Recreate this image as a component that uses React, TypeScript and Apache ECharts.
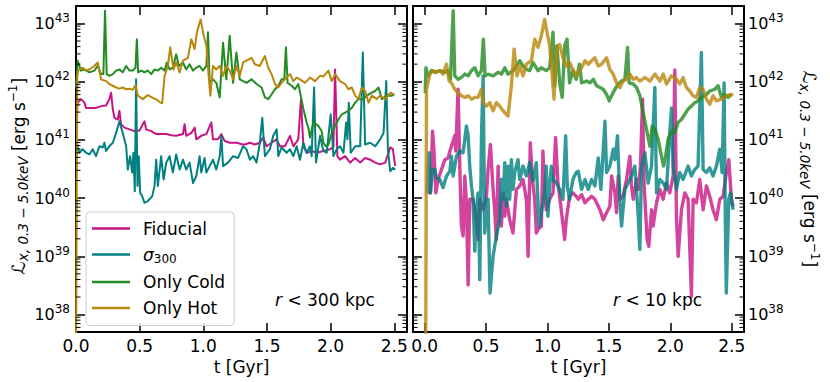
import React, { useEffect, useRef } from 'react';
import * as echarts from 'echarts';

// [t (Gyr), log10 L_x (erg/s)]
const fidTotal: [number, number][] = [
  [0.008, 41.5], [0.013, 41.64], [0.039, 41.7], [0.066, 41.64], [0.079, 41.55], [0.118, 41.55], [0.157, 41.55], [0.197, 41.58],
  [0.236, 41.59], [0.262, 41.7], [0.276, 41.81], [0.289, 41.53], [0.302, 41.38], [0.328, 41.35], [0.341, 41.5], [0.354, 41.27],
  [0.381, 41.21], [0.42, 41.18], [0.459, 41.15], [0.499, 41.16], [0.525, 41.27], [0.538, 41.32], [0.551, 41.18], [0.591, 41.15],
  [0.63, 41.1], [0.669, 41.1], [0.709, 41.1], [0.748, 41.08], [0.787, 41.07], [0.84, 41.1], [0.853, 41.27], [0.866, 41.07],
  [0.906, 41.12], [0.932, 41.21], [0.945, 41.01], [0.984, 41.07], [1.024, 41.1], [1.063, 41.3], [1.076, 41.01], [1.115, 41.01],
  [1.142, 41.1], [1.168, 40.98], [1.207, 40.95], [1.26, 40.95], [1.312, 40.92], [1.326, 40.92], [1.366, 40.95], [1.405, 40.92],
  [1.444, 40.95], [1.471, 41.04], [1.497, 40.89], [1.536, 40.95], [1.576, 41.01], [1.602, 40.89], [1.641, 40.89], [1.681, 41.07],
  [1.707, 40.89], [1.746, 41.01], [1.767, 41.7], [1.786, 40.89], [1.812, 40.78], [1.851, 40.81], [1.891, 40.78], [1.943, 40.81],
  [1.996, 40.84], [2.022, 40.87], [2.035, 42.21], [2.053, 40.72], [2.074, 40.66], [2.114, 40.72], [2.153, 40.61], [2.193, 40.69],
  [2.232, 40.61], [2.271, 40.69], [2.311, 40.66], [2.35, 40.61], [2.389, 40.58], [2.429, 40.61], [2.468, 40.87], [2.489, 40.84],
  [2.507, 40.55],
];

const sigTotal: [number, number][] = [
  [0.008, 40.95], [0.013, 40.89], [0.026, 40.78], [0.052, 40.84], [0.079, 40.78], [0.105, 40.75], [0.131, 40.84], [0.157, 40.72],
  [0.184, 40.89], [0.21, 40.87], [0.223, 40.95], [0.236, 40.81], [0.262, 40.89], [0.289, 40.95], [0.315, 41.12], [0.341, 41.32],
  [0.367, 41.12], [0.394, 40.89], [0.407, 40.49], [0.425, 40.72], [0.441, 40.44], [0.451, 40.78], [0.462, 40.12], [0.472, 42.04],
  [0.483, 40.21], [0.493, 40.72], [0.504, 40.09], [0.52, 40.03], [0.538, 39.92], [0.564, 39.95], [0.598, 40.03], [0.617, 40.21],
  [0.63, 40.66], [0.643, 40.21], [0.669, 40.72], [0.688, 40.32], [0.709, 40.61], [0.735, 40.72], [0.761, 40.44], [0.787, 40.75],
  [0.814, 40.49], [0.84, 40.66], [0.866, 40.49], [0.892, 40.61], [0.919, 40.26], [0.945, 40.38], [0.971, 40.72], [0.984, 40.44],
  [1.01, 40.69], [1.024, 40.44], [1.05, 40.55], [1.076, 40.66], [1.102, 40.49], [1.129, 40.72], [1.142, 41.07], [1.155, 40.55],
  [1.194, 40.61], [1.234, 40.72], [1.273, 40.69], [1.312, 40.89], [1.339, 40.84], [1.366, 40.66], [1.392, 40.72], [1.418, 40.61],
  [1.444, 40.95], [1.463, 41.38], [1.484, 40.72], [1.523, 40.84], [1.549, 41.07], [1.576, 41.18], [1.589, 40.72], [1.615, 40.87],
  [1.654, 40.78], [1.681, 40.84], [1.707, 40.72], [1.733, 40.89], [1.759, 40.66], [1.786, 40.95], [1.812, 40.78], [1.838, 40.89],
  [1.851, 40.72], [1.87, 41.9], [1.885, 40.61], [1.917, 41.07], [1.943, 40.81], [1.969, 40.78], [2.001, 41.44], [2.022, 40.72],
  [2.048, 40.84], [2.074, 40.89], [2.101, 40.78], [2.122, 41.3], [2.132, 41.01], [2.143, 41.64], [2.158, 40.78], [2.193, 40.89],
  [2.232, 40.89], [2.253, 42.5], [2.271, 40.92], [2.311, 40.95], [2.35, 40.89], [2.389, 41.01], [2.416, 41.12], [2.437, 42.01],
  [2.45, 40.84], [2.468, 40.46], [2.489, 40.52], [2.507, 40.49],
];

const coldTotal: [number, number][] = [
  [0.0, 41.9], [0.013, 42.36], [0.039, 42.19], [0.066, 42.21], [0.105, 42.16], [0.144, 42.19], [0.171, 42.27], [0.197, 42.13],
  [0.215, 42.13], [0.228, 43.22], [0.241, 42.13], [0.262, 42.1], [0.289, 42.13], [0.315, 42.19], [0.341, 42.21], [0.367, 42.16],
  [0.394, 42.27], [0.42, 42.19], [0.446, 42.19], [0.467, 42.24], [0.478, 42.73], [0.488, 42.16], [0.512, 42.19], [0.538, 42.16],
  [0.564, 42.19], [0.591, 42.13], [0.617, 42.21], [0.643, 42.19], [0.669, 42.24], [0.696, 42.19], [0.714, 42.33], [0.735, 42.21],
  [0.761, 42.24], [0.787, 42.47], [0.808, 42.27], [0.84, 42.33], [0.866, 42.21], [0.892, 42.3], [0.919, 42.19], [0.945, 42.24],
  [0.971, 42.27], [0.997, 42.19], [1.024, 42.27], [1.037, 42.85], [1.05, 41.98], [1.076, 42.04], [1.102, 41.98], [1.129, 41.73],
  [1.155, 42.67], [1.181, 42.04], [1.207, 42.79], [1.234, 41.98], [1.26, 42.5], [1.286, 42.04], [1.339, 41.98], [1.379, 42.04],
  [1.418, 41.96], [1.458, 41.9], [1.484, 41.73], [1.51, 41.7], [1.536, 41.78], [1.563, 41.87], [1.589, 41.93], [1.615, 42.04],
  [1.636, 42.04], [1.649, 42.59], [1.662, 41.98], [1.694, 41.93], [1.72, 41.87], [1.746, 41.96], [1.765, 41.76], [1.786, 41.53],
  [1.812, 41.3], [1.825, 41.21], [1.838, 41.04], [1.864, 41.3], [1.904, 41.24], [1.93, 41.15], [1.943, 40.95], [1.964, 40.89],
  [1.983, 40.92], [2.009, 41.12], [2.035, 41.24], [2.061, 41.35], [2.088, 41.44], [2.114, 41.47], [2.14, 41.5], [2.166, 41.55],
  [2.193, 41.64], [2.219, 41.7], [2.258, 41.7], [2.284, 41.76], [2.324, 41.81], [2.35, 41.84], [2.376, 41.9], [2.403, 41.7],
  [2.442, 41.76], [2.481, 41.76], [2.5, 41.78],
];

const hotTotal: [number, number][] = [
  [0.0, 37.0], [0.01, 42.1], [0.021, 42.21], [0.052, 42.24], [0.079, 42.19], [0.105, 42.21], [0.144, 42.27], [0.171, 42.33],
  [0.197, 42.04], [0.236, 42.01], [0.262, 41.96], [0.289, 41.93], [0.315, 41.9], [0.341, 41.88], [0.367, 41.9], [0.394, 41.87],
  [0.42, 41.88], [0.446, 41.86], [0.467, 41.94], [0.486, 41.76], [0.525, 41.7], [0.564, 41.77], [0.604, 41.72], [0.63, 41.7],
  [0.656, 41.65], [0.677, 41.63], [0.696, 42.1], [0.722, 42.27], [0.74, 42.59], [0.766, 42.21], [0.787, 42.33], [0.814, 42.16],
  [0.84, 42.36], [0.879, 42.41], [0.906, 42.73], [0.932, 42.56], [0.95, 42.85], [0.979, 43.07], [1.003, 42.79], [1.024, 42.62],
  [1.042, 42.1], [1.055, 41.76], [1.076, 42.27], [1.102, 42.21], [1.129, 42.27], [1.155, 42.1], [1.181, 42.27], [1.207, 42.19],
  [1.234, 42.04], [1.26, 42.27], [1.286, 42.1], [1.313, 42.33], [1.339, 42.36], [1.379, 42.41], [1.405, 42.3], [1.444, 42.27],
  [1.484, 42.44], [1.51, 42.24], [1.536, 42.13], [1.563, 41.96], [1.589, 41.9], [1.615, 41.98], [1.641, 42.04], [1.681, 42.13],
  [1.707, 42.01], [1.733, 42.07], [1.759, 42.04], [1.799, 41.98], [1.838, 42.07], [1.878, 42.01], [1.917, 42.1], [1.943, 42.09],
  [1.983, 42.19], [2.009, 42.01], [2.035, 42.13], [2.074, 42.01], [2.114, 41.96], [2.14, 41.87], [2.166, 41.9], [2.193, 41.76],
  [2.219, 41.7], [2.245, 41.9], [2.271, 41.84], [2.298, 41.64], [2.324, 41.76], [2.363, 41.7], [2.389, 41.76], [2.429, 41.7],
  [2.468, 41.81], [2.5, 41.78],
];

const fidCore: [number, number][] = [
  [0.03, 40.1], [0.047, 40.09], [0.064, 41.15], [0.075, 40.84], [0.091, 40.09], [0.11, 40.32], [0.137, 40.49], [0.164, 40.66],
  [0.191, 40.69], [0.21, 40.84], [0.232, 40.98], [0.245, 41.07], [0.253, 40.81], [0.272, 41.87], [0.286, 40.55], [0.299, 39.52],
  [0.313, 39.35], [0.327, 40.38], [0.34, 39.92], [0.354, 38.51], [0.367, 39.98], [0.394, 39.98], [0.408, 39.8], [0.421, 39.57],
  [0.435, 39.29], [0.449, 39.98], [0.476, 39.8], [0.503, 40.03], [0.516, 40.49], [0.535, 40.92], [0.557, 40.15], [0.57, 39.8],
  [0.584, 39.29], [0.598, 40.55], [0.611, 39.63], [0.625, 39.52], [0.638, 40.09], [0.652, 39.69], [0.665, 39.98], [0.692, 39.63],
  [0.719, 39.4], [0.747, 40.15], [0.774, 40.21], [0.801, 40.32], [0.828, 39.98], [0.842, 39.0], [0.86, 40.95], [0.877, 40.32],
  [0.896, 39.98], [0.909, 39.4], [0.923, 39.46], [0.95, 39.52], [0.963, 40.81], [0.977, 40.09], [0.99, 39.8], [1.018, 39.98],
  [1.045, 40.09], [1.066, 41.04], [1.085, 40.26], [1.112, 39.8], [1.14, 39.29], [1.153, 39.63], [1.18, 40.03], [1.207, 40.09],
  [1.234, 40.03], [1.251, 39.98], [1.278, 40.06], [1.305, 39.92], [1.332, 39.98], [1.359, 40.03], [1.386, 39.98], [1.427, 39.8],
  [1.454, 39.63], [1.481, 39.75], [1.508, 39.86], [1.522, 40.38], [1.549, 40.09], [1.562, 39.75], [1.576, 40.38], [1.589, 39.98],
  [1.616, 40.03], [1.643, 40.32], [1.671, 40.72], [1.684, 40.21], [1.698, 39.98], [1.725, 40.32], [1.739, 40.15], [1.757, 40.55],
  [1.774, 41.7], [1.787, 40.21], [1.798, 39.8], [1.811, 39.29], [1.825, 39.17], [1.847, 39.8], [1.86, 39.52], [1.888, 39.92],
  [1.915, 40.15], [1.942, 39.98], [1.969, 40.26], [1.996, 40.09], [2.023, 40.38], [2.037, 42.2], [2.05, 39.69], [2.064, 39.0],
  [2.091, 39.8], [2.118, 40.09], [2.145, 39.98], [2.172, 38.31], [2.186, 39.98], [2.213, 39.92], [2.24, 40.32], [2.267, 39.8],
  [2.294, 40.21], [2.321, 40.03], [2.348, 39.8], [2.375, 39.63], [2.403, 39.98], [2.43, 40.03], [2.457, 40.44], [2.476, 40.66],
  [2.498, 39.98], [2.511, 39.86],
];

const sigCore: [number, number][] = [
  [0.02, 40.09], [0.037, 40.78], [0.047, 40.09], [0.064, 40.49], [0.083, 40.49], [0.096, 40.35], [0.123, 40.32], [0.15, 40.18],
  [0.178, 40.38], [0.205, 40.46], [0.218, 40.72], [0.232, 40.38], [0.259, 40.72], [0.286, 40.81], [0.313, 40.78], [0.327, 41.01],
  [0.34, 41.24], [0.354, 41.07], [0.367, 40.55], [0.381, 40.21], [0.394, 39.98], [0.408, 39.09], [0.421, 39.8], [0.435, 40.09],
  [0.449, 38.6], [0.462, 41.01], [0.476, 42.1], [0.489, 39.4], [0.503, 39.8], [0.516, 39.98], [0.532, 38.37], [0.557, 39.0],
  [0.584, 39.35], [0.611, 39.63], [0.625, 40.32], [0.638, 39.98], [0.652, 40.61], [0.665, 39.86], [0.679, 40.55], [0.692, 39.98],
  [0.706, 40.66], [0.719, 40.15], [0.733, 40.44], [0.76, 40.66], [0.774, 40.32], [0.801, 40.55], [0.828, 40.38], [0.855, 40.61],
  [0.882, 40.29], [0.909, 40.61], [0.931, 39.52], [0.95, 39.75], [0.977, 40.09], [0.99, 40.55], [1.004, 39.69], [1.018, 40.21],
  [1.031, 40.55], [1.045, 40.32], [1.072, 40.26], [1.099, 40.15], [1.126, 39.98], [1.148, 41.07], [1.161, 40.21], [1.18, 39.98],
  [1.207, 40.32], [1.234, 40.44], [1.251, 40.46], [1.278, 40.15], [1.305, 40.32], [1.332, 40.15], [1.359, 40.32], [1.386, 40.21],
  [1.413, 40.69], [1.435, 40.15], [1.468, 41.32], [1.481, 40.44], [1.508, 40.55], [1.535, 40.84], [1.549, 40.66], [1.57, 41.07],
  [1.589, 39.98], [1.603, 39.52], [1.63, 40.15], [1.657, 40.26], [1.684, 40.38], [1.711, 40.55], [1.739, 39.69], [1.752, 39.12],
  [1.766, 40.55], [1.793, 40.78], [1.82, 40.26], [1.847, 40.55], [1.874, 41.9], [1.888, 40.09], [1.915, 40.32], [1.942, 40.26],
  [1.969, 40.15], [1.996, 41.12], [2.01, 41.55], [2.023, 40.55], [2.05, 40.15], [2.077, 40.44], [2.104, 40.32], [2.145, 40.55],
  [2.172, 40.38], [2.199, 40.49], [2.226, 40.55], [2.253, 42.5], [2.267, 40.49], [2.294, 40.44], [2.321, 40.52], [2.348, 40.38],
  [2.375, 40.55], [2.403, 40.84], [2.422, 40.44], [2.438, 41.98], [2.448, 39.63], [2.456, 38.37], [2.476, 39.98], [2.49, 40.09],
  [2.511, 39.8],
];

const coldCore: [number, number][] = [
  [0.005, 41.8], [0.01, 42.24], [0.028, 42.1], [0.056, 42.19], [0.083, 42.16], [0.123, 42.19], [0.164, 42.16], [0.191, 42.19],
  [0.21, 42.04], [0.232, 43.22], [0.245, 42.1], [0.272, 42.04], [0.299, 42.07], [0.327, 42.13], [0.354, 42.1], [0.381, 42.19],
  [0.408, 42.24], [0.435, 42.1], [0.462, 42.19], [0.478, 42.73], [0.492, 42.1], [0.516, 42.13], [0.557, 42.1], [0.598, 42.16],
  [0.625, 42.13], [0.652, 42.24], [0.679, 42.13], [0.719, 42.19], [0.747, 42.27], [0.774, 42.36], [0.801, 42.27], [0.828, 42.21],
  [0.855, 42.19], [0.882, 42.33], [0.923, 42.19], [0.95, 42.24], [0.99, 42.19], [1.018, 42.24], [1.045, 42.85], [1.058, 41.93],
  [1.077, 42.62], [1.099, 41.98], [1.12, 41.73], [1.14, 42.62], [1.159, 42.73], [1.18, 41.98], [1.207, 42.19], [1.234, 42.04],
  [1.261, 42.3], [1.278, 41.98], [1.319, 42.01], [1.346, 41.98], [1.373, 42.04], [1.4, 41.93], [1.427, 41.9], [1.454, 41.87],
  [1.481, 41.78], [1.503, 41.67], [1.522, 41.76], [1.549, 41.87], [1.576, 41.96], [1.603, 42.01], [1.63, 42.04], [1.652, 42.59],
  [1.665, 41.98], [1.698, 41.96], [1.725, 41.9], [1.752, 41.76], [1.779, 41.47], [1.806, 41.18], [1.834, 40.89], [1.853, 41.24],
  [1.874, 41.18], [1.901, 41.01], [1.922, 40.78], [1.945, 40.55], [1.96, 40.7], [1.982, 41.01], [2.009, 41.15], [2.036, 41.12],
  [2.063, 41.3], [2.09, 41.35], [2.118, 41.44], [2.145, 41.53], [2.172, 41.58], [2.199, 41.64], [2.226, 41.67], [2.253, 41.73],
  [2.294, 41.78], [2.321, 41.84], [2.362, 41.87], [2.389, 41.93], [2.416, 41.73], [2.443, 41.78], [2.47, 41.73], [2.497, 41.78],
];

const hotCore: [number, number][] = [
  [0.008, 37.0], [0.015, 41.87], [0.042, 42.13], [0.069, 42.19], [0.096, 42.16], [0.123, 42.19], [0.15, 42.13], [0.177, 42.3],
  [0.199, 42.01], [0.218, 41.98], [0.245, 41.87], [0.272, 41.81], [0.299, 41.76], [0.327, 41.73], [0.354, 41.76], [0.381, 41.7],
  [0.408, 41.73], [0.435, 41.73], [0.462, 41.87], [0.476, 41.64], [0.503, 41.58], [0.53, 41.64], [0.557, 41.5], [0.584, 41.64],
  [0.611, 41.58], [0.638, 41.5], [0.679, 41.41], [0.706, 41.93], [0.728, 42.56], [0.752, 42.1], [0.774, 42.27], [0.801, 42.1],
  [0.828, 42.3], [0.869, 42.36], [0.896, 42.73], [0.923, 42.59], [0.95, 42.79], [0.977, 43.07], [0.996, 42.85], [1.018, 42.62],
  [1.039, 42.1], [1.053, 41.7], [1.077, 42.59], [1.099, 42.64], [1.126, 42.41], [1.153, 42.27], [1.18, 42.33], [1.207, 42.21],
  [1.234, 42.1], [1.261, 42.19], [1.278, 42.24], [1.305, 42.36], [1.332, 42.3], [1.359, 42.36], [1.386, 42.41], [1.413, 42.27],
  [1.44, 42.3], [1.481, 42.41], [1.508, 42.21], [1.535, 42.13], [1.562, 41.98], [1.589, 41.9], [1.616, 42.01], [1.643, 42.04],
  [1.671, 42.13], [1.698, 42.04], [1.725, 42.07], [1.752, 42.01], [1.793, 42.07], [1.834, 42.01], [1.874, 42.13], [1.915, 42.01],
  [1.942, 42.13], [1.969, 41.96], [2.009, 42.1], [2.05, 42.04], [2.077, 41.96], [2.104, 42.07], [2.131, 41.9], [2.158, 41.84],
  [2.185, 41.76], [2.213, 41.73], [2.24, 41.9], [2.267, 41.87], [2.294, 41.7], [2.321, 41.61], [2.348, 41.76], [2.375, 41.67],
  [2.416, 41.7], [2.457, 41.76], [2.497, 41.78], [2.511, 41.76],
];

const seriesNames = ['Fiducial', 'σ300', 'Only Cold', 'Only Hot'];
const yDecades = [37, 38, 39, 40, 41, 42, 43];
const minorMultipliers = [2, 3, 4, 5, 6, 7, 8, 9];

const Y_MIN = 37.7;
const Y_MAX = 43.3;
const X_L = [0, 2.6];
const X_R = [-0.095, 2.6];

const FONT = 'DejaVu Sans';
const COLORS = ['#c71585', '#008080', '#228b22', '#b8860b'];

export default function App() {
  const ref = useRef<HTMLDivElement>(null);

  useEffect(() => {
    if (!ref.current) return;
    const chart = echarts.init(ref.current, null, { renderer: 'svg' });

    const minorValues: number[] = [];
    yDecades.forEach((d) => {
      minorMultipliers.forEach((m) => {
        const v = d + Math.log10(m);
        if (v > Y_MIN && v < Y_MAX) minorValues.push(v);
      });
    });

    const yLabelFmt = (v: number) =>
      Math.abs(v - Math.round(v)) < 1e-6 ? `{b|10}{s|${Math.round(v)}}` : '';
    const xLabelFmt = (v: number) =>
      Math.abs(v * 2 - Math.round(v * 2)) < 1e-6 && v >= -1e-9 ? v.toFixed(1) : '';

    const yRich = {
      b: { fontSize: 16, fontFamily: FONT, color: '#000', verticalAlign: 'middle' },
      s: { fontSize: 12, fontFamily: FONT, color: '#000', verticalAlign: 'middle', padding: [0, 0, 11, 0] },
    };
    const nameRich = {
      L: { fontSize: 18, fontFamily: FONT, color: '#000', verticalAlign: 'middle' },
      sub: { fontSize: 13.5, fontFamily: FONT, fontStyle: 'italic', color: '#000', verticalAlign: 'middle', padding: [9, 0, 0, 0] },
      n: { fontSize: 17, fontFamily: FONT, color: '#000', verticalAlign: 'middle' },
      sup: { fontSize: 12, fontFamily: FONT, color: '#000', verticalAlign: 'middle', padding: [0, 0, 11, 0] },
    };
    const yName = '{L|ℒ}{sub|x, 0.3 − 5.0keV}{n| [erg s}{sup|−1}{n|]}';

    const axisLine = { show: true, onZero: false, lineStyle: { color: '#000', width: 2 } };
    const tick = { show: true, inside: true, length: 9, lineStyle: { color: '#000', width: 1.5 } };

    const makeX = (gridIndex: number, ext: number[], pos: 'bottom' | 'top', labels: boolean) => ({
      type: 'value',
      gridIndex,
      position: pos,
      min: ext[0],
      max: ext[1],
      minInterval: 0.5,
      maxInterval: 0.5,
      splitNumber: 5,
      axisLine,
      axisTick: tick,
      splitLine: { show: false },
      axisLabel: {
        show: labels,
        formatter: xLabelFmt,
        fontSize: 17,
        fontFamily: FONT,
        color: '#000',
        margin: 5,
        showMinLabel: true,
        showMaxLabel: false,
      },
      name: labels ? 't [Gyr]' : '',
      nameLocation: 'middle',
      nameGap: 22,
      nameTextStyle: { fontSize: 17, fontFamily: FONT, color: '#000' },
    });

    const makeY = (gridIndex: number, pos: 'left' | 'right', labels: boolean, named: boolean) => ({
      type: 'value',
      gridIndex,
      position: pos,
      min: Y_MIN,
      max: Y_MAX,
      minInterval: 1,
      maxInterval: 1,
      splitNumber: 5,
      axisLine,
      axisTick: tick,
      splitLine: { show: false },
      axisLabel: {
        show: labels,
        formatter: yLabelFmt,
        rich: yRich,
        margin: pos === 'left' ? 6 : 4,
        showMinLabel: false,
        showMaxLabel: false,
      },
      name: named ? yName : '',
      nameLocation: 'middle',
      nameRotate: pos === 'left' ? 90 : -90,
      nameGap: pos === 'left' ? 44 : 54,
      nameTextStyle: {
        rich: nameRich,
        fontSize: 17,
        fontFamily: FONT,
        color: '#000',
        padding: pos === 'left' ? [0, 14, 0, 0] : 0,
      },
    });

    const lineSeries = (data: [number, number][], idx: number, axis: number, core: boolean) => ({
      type: 'line',
      name: seriesNames[idx],
      data,
      xAxisIndex: axis,
      yAxisIndex: axis,
      symbol: 'none',
      showSymbol: false,
      smooth: false,
      clip: true,
      z: 2 + idx * 0.1,
      lineStyle: { color: COLORS[idx], width: core ? 3.4 : 2, opacity: core ? 0.8 : 1, join: 'round' },
      itemStyle: { color: COLORS[idx] },
      emphasis: { disabled: true },
    });

    const minorTickSeries = (axis: number, ext: number[]) => ({
      type: 'custom',
      xAxisIndex: axis,
      yAxisIndex: axis,
      silent: true,
      z: 10,
      data: minorValues.map((v) => [ext[0], v]),
      encode: { x: 0, y: 1 },
      renderItem: (_params: any, api: any) => {
        const v = api.value(1);
        const l = api.coord([ext[0], v]);
        const r = api.coord([ext[1], v]);
        const st = { stroke: '#000', lineWidth: 1 };
        return {
          type: 'group',
          children: [
            { type: 'line', shape: { x1: l[0], y1: l[1], x2: l[0] + 4.5, y2: l[1] }, style: st },
            { type: 'line', shape: { x1: r[0] - 4.5, y1: r[1], x2: r[0], y2: r[1] }, style: st },
          ],
        };
      },
    });

    const option: any = {
      animation: false,
      textStyle: { fontFamily: FONT },
      grid: [
        { left: 76, top: 6, width: 331, height: 326 },
        { left: 413, top: 6, width: 331, height: 326 },
      ],
      xAxis: [
        makeX(0, X_L, 'bottom', true),
        makeX(0, X_L, 'top', false),
        makeX(1, X_R, 'bottom', true),
        makeX(1, X_R, 'top', false),
      ],
      yAxis: [
        makeY(0, 'left', true, true),
        makeY(0, 'right', false, false),
        makeY(1, 'right', true, true),
        makeY(1, 'left', false, false),
      ],
      legend: {
        data: seriesNames.map((n) => ({ name: n, icon: 'rect' })),
        orient: 'vertical',
        left: 86,
        top: 212,
        padding: [8, 9, 9, 6],
        itemGap: 9,
        itemWidth: 38,
        itemHeight: 2.5,
        backgroundColor: 'rgba(255,255,255,0.8)',
        borderColor: '#cccccc',
        borderWidth: 1,
        borderRadius: 4,
        selectedMode: false,
        formatter: (name: string) => (name === 'σ300' ? '{g|σ}{s|300}' : `{n|${name}}`),
        textStyle: {
          fontSize: 17,
          fontFamily: FONT,
          color: '#000',
          padding: [0, 0, 0, 8],
          rich: {
            n: { fontSize: 17, fontFamily: FONT, color: '#000', verticalAlign: 'middle' },
            g: { fontSize: 17, fontFamily: FONT, fontStyle: 'italic', color: '#000', verticalAlign: 'middle' },
            s: { fontSize: 12, fontFamily: FONT, color: '#000', verticalAlign: 'middle', padding: [8, 0, 0, 0] },
          },
        },
      },
      graphic: [
        {
          type: 'text',
          x: 275,
          y: 300,
          silent: true,
          style: {
            text: '{i|r}{n| < 300 kpc}',
            verticalAlign: 'middle',
            rich: {
              i: { fontSize: 17, fontFamily: FONT, fontStyle: 'italic', fill: '#000' },
              n: { fontSize: 17, fontFamily: FONT, fill: '#000' },
            },
          },
          z: 20,
        },
        {
          type: 'text',
          x: 613,
          y: 300,
          silent: true,
          style: {
            text: '{i|r}{n| < 10 kpc}',
            verticalAlign: 'middle',
            rich: {
              i: { fontSize: 17, fontFamily: FONT, fontStyle: 'italic', fill: '#000' },
              n: { fontSize: 17, fontFamily: FONT, fill: '#000' },
            },
          },
          z: 20,
        },
      ],
      series: [
        lineSeries(fidTotal, 0, 0, false),
        lineSeries(sigTotal, 1, 0, false),
        lineSeries(coldTotal, 2, 0, false),
        lineSeries(hotTotal, 3, 0, false),
        lineSeries(fidCore, 0, 2, true),
        lineSeries(sigCore, 1, 2, true),
        lineSeries(coldCore, 2, 2, true),
        lineSeries(hotCore, 3, 2, true),
        minorTickSeries(0, X_L),
        minorTickSeries(2, X_R),
      ],
    };

    chart.setOption(option);
    return () => chart.dispose();
  }, []);

  return (
    <div
      ref={ref}
      style={{ position: 'absolute', left: 0, top: 0, width: 830, height: 382, background: '#fff' }}
    />
  );
}
